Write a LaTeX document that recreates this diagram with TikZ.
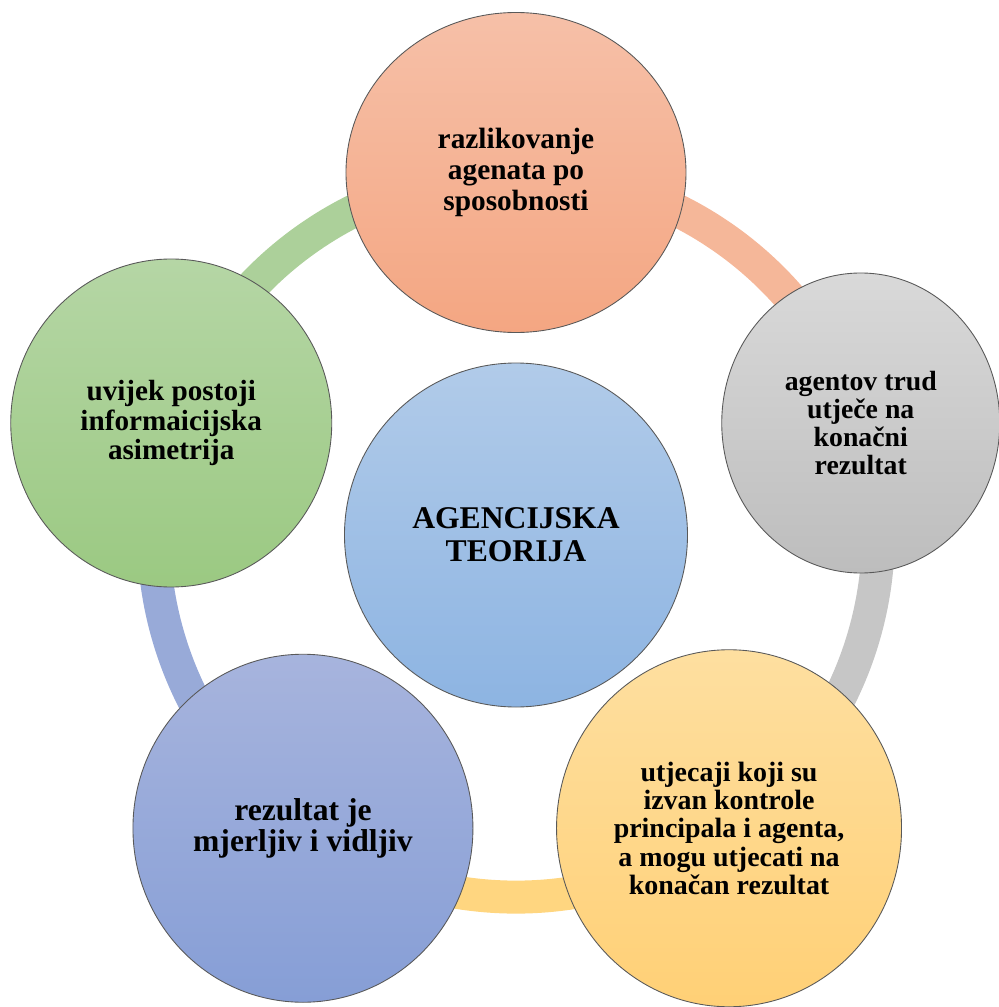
\documentclass[tikz,border=0pt]{standalone}
\usepackage{fontspec}
\setmainfont{Liberation Serif}
\usetikzlibrary{shapes.geometric,backgrounds}
\definecolor{salmonA}{RGB}{246,192,168}
\definecolor{salmonB}{RGB}{244,166,130}
\definecolor{greyA}{RGB}{217,217,217}
\definecolor{greyB}{RGB}{189,189,189}
\definecolor{goldA}{RGB}{254,223,160}
\definecolor{goldB}{RGB}{255,208,118}
\definecolor{slateA}{RGB}{167,180,221}
\definecolor{slateB}{RGB}{134,158,214}
\definecolor{leafA}{RGB}{181,214,165}
\definecolor{leafB}{RGB}{155,201,130}
\definecolor{skyA}{RGB}{177,203,233}
\definecolor{skyB}{RGB}{141,180,226}
\definecolor{salmonring}{RGB}{245,183,153}
\definecolor{greyring}{RGB}{198,198,198}
\definecolor{goldring}{RGB}{255,214,128}
\definecolor{slatering}{RGB}{152,170,216}
\definecolor{leafring}{RGB}{172,208,154}
\begin{document}
\begin{tikzpicture}[]
        \tikzstyle{bubble}=[ellipse, draw=black!65, line width=0.5pt, inner sep=0pt, align=center]
        \tikzstyle{ringseg}=[line width=0.66cm, bend left=36, looseness=0.94]
        \useasboundingbox (-10.32,-9.44) rectangle (9.64,10.70);
        \node[bubble, minimum width=6.86cm, minimum height=6.88cm, top color=skyA, bottom color=skyB, font=\fontsize{18}{18.8}\selectfont\bfseries] (C) at (0,0) {AGENCIJSKA\\TEORIJA};
        \node[bubble, minimum width=6.8cm, minimum height=6.4cm, top color=salmonA, bottom color=salmonB, font=\fontsize{16.7}{17.5}\selectfont\bfseries] (T) at (0,7.25) {razlikovanje\\agenata po\\sposobnosti};
        \node[bubble, minimum width=5.56cm, minimum height=6.0cm, top color=greyA, bottom color=greyB, font=\fontsize{15.8}{16.1}\selectfont\bfseries] (R) at (6.895,2.24) {agentov trud\\utječe na\\konačni\\rezultat};
        \node[bubble, minimum width=6.9cm, minimum height=7.14cm, top color=goldA, bottom color=goldB, font=\fontsize{15.9}{16.1}\selectfont\bfseries] (BR) at (4.261,-5.865) {utjecaji koji su\\izvan kontrole\\principala i agenta,\\a mogu utjecati na\\konačan rezultat};
        \node[bubble, minimum width=6.8cm, minimum height=6.96cm, top color=slateA, bottom color=slateB, font=\fontsize{18}{18}\selectfont\bfseries] (BL) at (-4.261,-5.865) {rezultat je\\mjerljiv i vidljiv};
        \node[bubble, minimum width=6.42cm, minimum height=6.56cm, top color=leafA, bottom color=leafB, font=\fontsize{16.6}{16.7}\selectfont\bfseries] (L) at (-6.895,2.24) {uvijek postoji\\informaicijska\\asimetrija};
        \begin{scope}[on background layer]
        \path (T.center) edge[ringseg, draw=salmonring] (R.center);
        \path (R.center) edge[ringseg, draw=greyring] (BR.center);
        \path (BR.center) edge[ringseg, draw=goldring] (BL.center);
        \path (BL.center) edge[ringseg, draw=slatering] (L.center);
        \path (L.center) edge[ringseg, draw=leafring] (T.center);
        \end{scope}
    \end{tikzpicture}
\end{document}
